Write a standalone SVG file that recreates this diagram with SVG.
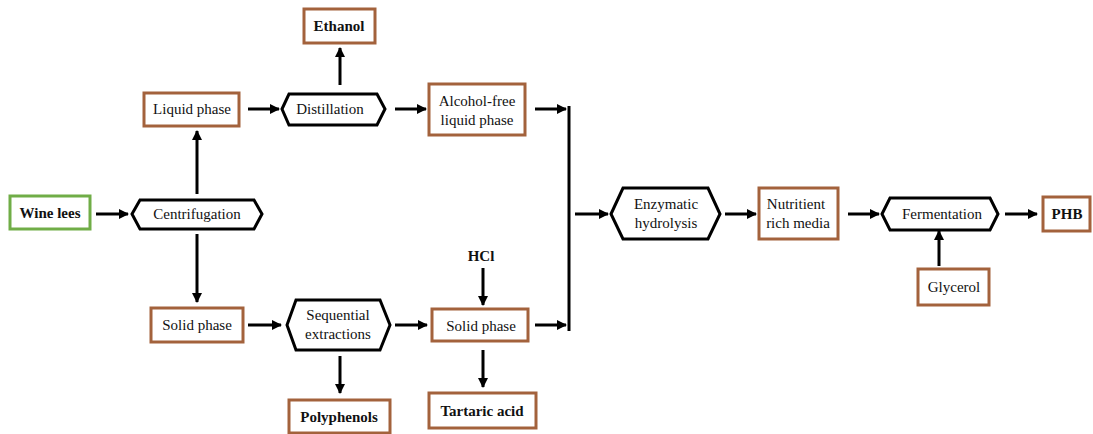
<svg xmlns="http://www.w3.org/2000/svg" width="1093" height="434" viewBox="0 0 1093 434">
<defs>
<marker id="ah" markerWidth="10" markerHeight="10" refX="9" refY="5" orient="auto" markerUnits="userSpaceOnUse">
<path d="M0,0 L10,5 L0,10 Z" fill="#000"/>
</marker>
<style>
.box{fill:#fff;stroke:#a3623c;stroke-width:3}
.gbox{fill:#fff;stroke:#70ad47;stroke-width:3}
.hex{fill:#fff;stroke:#000;stroke-width:3;stroke-linejoin:miter}
text{font-family:'Liberation Serif','Times New Roman','DejaVu Serif',serif;font-size:15px;fill:#111;text-anchor:middle}
.b{font-weight:bold}
.c{stroke:#000;stroke-width:3;fill:none}
.a{stroke:#000;stroke-width:3;fill:none;marker-end:url(#ah)}
</style>
</defs>
<rect width="1093" height="434" fill="#fff"/>
<g id="connectors">
<line class="a" x1="96" y1="214" x2="128" y2="214"/>
<line class="a" x1="197" y1="194" x2="197" y2="131"/>
<line class="a" x1="197" y1="234" x2="197" y2="302"/>
<line class="a" x1="248" y1="109" x2="279" y2="109"/>
<line class="a" x1="340" y1="85" x2="340" y2="48"/>
<line class="a" x1="395" y1="109" x2="426" y2="109"/>
<line class="a" x1="535" y1="109" x2="566" y2="109"/>
<line class="c" x1="569" y1="106" x2="569" y2="331"/>
<line class="a" x1="575" y1="214" x2="608" y2="214"/>
<line class="a" x1="725" y1="214" x2="756" y2="214"/>
<line class="a" x1="848" y1="214" x2="879" y2="214"/>
<line class="a" x1="1005" y1="214" x2="1037" y2="214"/>
<line class="a" x1="939" y1="266" x2="939" y2="231"/>
<line class="a" x1="248" y1="325" x2="281" y2="325"/>
<line class="a" x1="340" y1="356" x2="340" y2="393"/>
<line class="a" x1="395" y1="325" x2="427" y2="325"/>
<line class="a" x1="483" y1="268" x2="483" y2="305"/>
<line class="a" x1="535" y1="325" x2="566" y2="325"/>
<line class="a" x1="483" y1="350" x2="483" y2="387"/>
</g>
<g id="wine-lees"><rect class="gbox" x="10" y="196" width="80" height="33"/><text class="b" x="50" y="218">Wine lees</text></g>
<g id="centrifugation"><polygon class="hex" points="132,214 140,200 254,200 262,214 254,229 140,229"/><text x="197" y="219">Centrifugation</text></g>
<g id="liquid-phase"><rect class="box" x="144" y="93" width="95" height="33"/><text x="192" y="114">Liquid phase</text></g>
<g id="distillation"><polygon class="hex" points="282,109 289,94 377,94 385,109 377,125 289,125"/><text x="330" y="114">Distillation</text></g>
<g id="ethanol"><rect class="box" x="304" y="9" width="71" height="34"/><text class="b" x="339" y="31">Ethanol</text></g>
<g id="alcohol-free"><rect class="box" x="429" y="84" width="96" height="51"/><text x="477" y="106">Alcohol-free</text><text x="477" y="125">liquid phase</text></g>
<g id="enzymatic"><polygon class="hex" points="611,214 623,188 708,188 720,214 708,239 623,239"/><text x="666" y="209">Enzymatic</text><text x="666" y="228">hydrolysis</text></g>
<g id="nutritient"><rect class="box" x="759" y="188" width="79" height="51"/><text x="796" y="209">Nutritient</text><text x="798" y="228">rich media</text></g>
<g id="fermentation"><polygon class="hex" points="882,214 890,198 990,198 998,214 990,230 890,230"/><text x="942" y="219">Fermentation</text></g>
<g id="phb"><rect class="box" x="1043" y="197" width="47" height="34"/><text class="b" x="1067" y="219">PHB</text></g>
<g id="glycerol"><rect class="box" x="918" y="269" width="71" height="36"/><text x="954" y="292">Glycerol</text></g>
<g id="solid-phase-1"><rect class="box" x="151" y="308" width="92" height="34"/><text x="197" y="330">Solid phase</text></g>
<g id="sequential"><polygon class="hex" points="287,325 296,300 380,300 390,325 380,350 296,350"/><text x="338" y="320">Sequential</text><text x="338" y="339">extractions</text></g>
<g id="polyphenols"><rect class="box" x="289" y="400" width="101" height="33"/><text class="b" x="339" y="422">Polyphenols</text></g>
<g id="hcl"><text class="b" x="481" y="261">HCl</text></g>
<g id="solid-phase-2"><rect class="box" x="432" y="309" width="96" height="32"/><text x="481" y="331">Solid phase</text></g>
<g id="tartaric"><rect class="box" x="429" y="393" width="107" height="35"/><text class="b" x="482" y="416">Tartaric acid</text></g>
</svg>
